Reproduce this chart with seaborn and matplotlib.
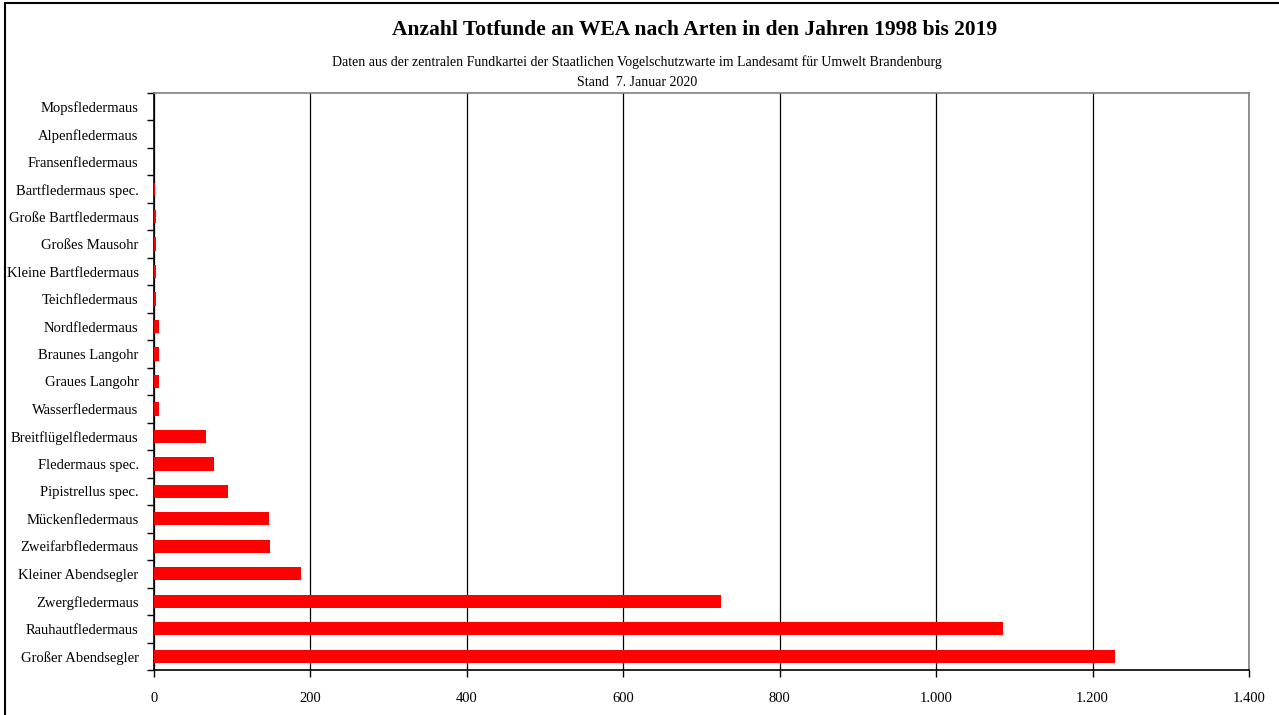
import matplotlib
matplotlib.use('Agg')
import matplotlib.pyplot as plt
import seaborn as sns
import pandas as pd
from matplotlib.ticker import FuncFormatter, FixedLocator

# === Data ===
species = ['Mopsfledermaus', 'Alpenfledermaus', 'Fransenfledermaus',
           'Bartfledermaus spec.', 'Große Bartfledermaus', 'Großes Mausohr',
           'Kleine Bartfledermaus', 'Teichfledermaus', 'Nordfledermaus',
           'Braunes Langohr', 'Graues Langohr', 'Wasserfledermaus',
           'Breitflügelfledermaus', 'Fledermaus spec.', 'Pipistrellus spec.',
           'Mückenfledermaus', 'Zweifarbfledermaus', 'Kleiner Abendsegler',
           'Zwergfledermaus', 'Rauhautfledermaus', 'Großer Abendsegler']
counts = [0, 0, 0, 1, 2, 2, 2, 2, 6, 7, 7, 7,
          66, 77, 94, 147, 148, 188, 725, 1086, 1229]
x_ticks = [0, 200, 400, 600, 800, 1000, 1200, 1400]

title = 'Anzahl Totfunde an WEA nach Arten in den Jahren 1998 bis 2019'
subtitle = 'Daten aus der zentralen Fundkartei der Staatlichen Vogelschutzwarte im Landesamt für Umwelt Brandenburg'
stand = 'Stand  7. Januar 2020'

df = pd.DataFrame({'Art': species, 'Anzahl': counts})

sns.set_style('white')
plt.rcParams['font.family'] = ['Liberation Serif', 'DejaVu Serif']
plt.rcParams['text.color'] = 'black'
plt.rcParams['xtick.color'] = 'black'
plt.rcParams['ytick.color'] = 'black'

fig = plt.figure(figsize=(12.79, 7.15), dpi=100)
ax = fig.add_axes([0.1204, 0.0629, 0.8561, 0.8071])

sns.barplot(data=df, x='Anzahl', y='Art', order=species, color='#ff0000',
            saturation=1, width=0.48, orient='h', linewidth=0, zorder=3, ax=ax)

ax.set_xlim(0, 1400)
ax.set_ylim(len(species) - 0.5, -0.5)
ax.xaxis.set_major_locator(FixedLocator(x_ticks))
ax.xaxis.set_major_formatter(FuncFormatter(lambda v, p: f'{int(v):,}'.replace(',', '.')))
ax.grid(axis='x', color='black', linewidth=0.9, zorder=0)
ax.set_axisbelow(True)
ax.set_xlabel('')
ax.set_ylabel('')

# ticks between categories on the y axis
ax.yaxis.set_minor_locator(FixedLocator([i - 0.5 for i in range(len(species) + 1)]))
ax.tick_params(axis='y', which='major', length=0, pad=11, labelsize=10.5, labelcolor='black')
ax.tick_params(axis='y', which='minor', length=5, width=1, color='black', left=True)
ax.tick_params(axis='x', which='major', length=5, width=1, color='black',
               bottom=True, pad=11, labelsize=10.5, labelcolor='black')

for side in ['left', 'bottom']:
    ax.spines[side].set_color('black')
    ax.spines[side].set_linewidth(1.2)
for side in ['top', 'right']:
    ax.spines[side].set_color('#808080')
    ax.spines[side].set_linewidth(1.2)

fig.text(0.543, 0.958, title, ha='center', va='center', fontsize=15.5, fontweight='bold')
fig.text(0.498, 0.913, subtitle, ha='center', va='center', fontsize=10)
fig.text(0.498, 0.885, stand, ha='center', va='center', fontsize=10)

# frame of the chart area (right and bottom edge are cut off)
fig.add_artist(plt.Line2D([0.004, 0.004], [0, 0.996], color='black', linewidth=1.5))
fig.add_artist(plt.Line2D([0.004, 1], [0.996, 0.996], color='black', linewidth=1.5))

fig.savefig('out.png', dpi=100, facecolor='white')
